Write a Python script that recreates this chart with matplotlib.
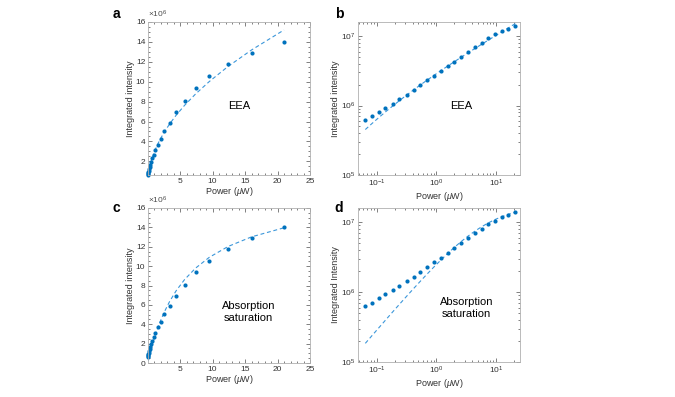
import numpy as np
import matplotlib
matplotlib.use("Agg")
import matplotlib.pyplot as plt
from matplotlib.ticker import FuncFormatter, MultipleLocator, LogLocator, NullFormatter

plt.rcParams["font.family"] = ["Liberation Sans", "DejaVu Sans"]
plt.rcParams["mathtext.fontset"] = "custom"
plt.rcParams["mathtext.rm"] = "Liberation Sans"
plt.rcParams["mathtext.it"] = "Liberation Sans:italic"

# excitation power (uW)
power = [0.065, 0.085, 0.11, 0.14, 0.185, 0.24, 0.32, 0.42, 0.54, 0.70, 0.92, 1.2,
         1.55, 2.0, 2.6, 3.4, 4.4, 5.7, 7.4, 9.5, 12.4, 16.0, 21.0]
# integrated PL intensity (x1e6)
intensity = [0.63, 0.71, 0.82, 0.93, 1.07, 1.23, 1.43, 1.67, 1.96, 2.30, 2.68, 3.12,
             3.68, 4.28, 5.08, 5.87, 6.92, 8.05, 9.42, 10.58, 11.75, 12.86, 14.0]
# EEA fit evaluated at the measured powers (x1e6)
eea_fit = [0.452, 0.557, 0.676, 0.807, 0.982, 1.174, 1.421, 1.693, 1.983, 2.325, 2.739, 3.202,
           3.712, 4.290, 4.970, 5.764, 6.636, 7.632, 8.778, 10.02, 11.54, 13.19, 15.20]
# absorption saturation fit evaluated at the measured powers (x1e6)
sat_fit = [0.185, 0.2415, 0.311, 0.394, 0.518, 0.666, 0.877, 1.134, 1.432, 1.814, 2.312, 2.903,
           3.583, 4.372, 5.300, 6.360, 7.461, 8.618, 9.800, 10.91, 12.03, 13.02, 13.96]

p = np.array(power)
y = np.array(intensity) * 1e6
f_eea = np.array(eea_fit) * 1e6
f_sat = np.array(sat_fit) * 1e6

DOT = "#0072BD"
LINE = "#3C97DA"
GRAY = "#4D4D4D"

fig = plt.figure(figsize=(6.75, 3.97), dpi=100)
W, H = 675.0, 397.0


def box(l, t, r, b):
    return [l / W, 1 - b / H, (r - l) / W, (b - t) / H]


def style(ax):
    for s in ax.spines.values():
        s.set_color("#B0B0B0")
        s.set_linewidth(0.6)
    ax.tick_params(which="both", direction="in", top=True, right=True,
                   colors=GRAY, labelsize=6, width=0.5, pad=2)
    ax.tick_params(which="major", length=3)
    ax.tick_params(which="minor", length=1.6)
    ax.tick_params(labelcolor="#333333")


def lin_panel(ax, fit, ylo, yticks):
    ax.plot(p, fit, "--", color=LINE, lw=0.8, dashes=(3.5, 2.5))
    ax.plot(p, y, "o", color=DOT, ms=3.0, mew=0, clip_on=False)
    ax.set_xlim(0.065, 25)
    ax.set_ylim(ylo, 16e6)
    ax.set_xticks([5, 10, 15, 20, 25])
    ax.xaxis.set_minor_locator(MultipleLocator(1))
    ax.set_yticks(yticks)
    ax.yaxis.set_minor_locator(MultipleLocator(0.5e6))
    ax.yaxis.set_major_formatter(FuncFormatter(lambda v, pos: "%d" % round(v / 1e6)))
    ax.text(0.0, 1.01, r"$\times10^6$", transform=ax.transAxes, fontsize=6,
            color=GRAY, ha="left", va="bottom")
    style(ax)


def log_panel(ax, fit):
    ax.plot(p, fit, "--", color=LINE, lw=0.8, dashes=(3.5, 2.5))
    ax.plot(p, y, "o", color=DOT, ms=3.0, mew=0)
    ax.set_xscale("log")
    ax.set_yscale("log")
    ax.set_xlim(0.049, 25)
    ax.set_ylim(1e5, 1.6e7)
    ax.xaxis.set_major_locator(LogLocator(base=10, numticks=10))
    ax.xaxis.set_minor_locator(LogLocator(base=10, subs=np.arange(2, 10), numticks=20))
    ax.xaxis.set_minor_formatter(NullFormatter())
    ax.yaxis.set_major_locator(LogLocator(base=10, numticks=10))
    ax.yaxis.set_minor_locator(LogLocator(base=10, subs=np.arange(2, 10), numticks=20))
    ax.yaxis.set_minor_formatter(NullFormatter())
    style(ax)


ax_a = fig.add_axes(box(148, 22, 310, 175))
lin_panel(ax_a, f_eea, 0.63e6, [2e6, 4e6, 6e6, 8e6, 10e6, 12e6, 14e6, 16e6])
ax_a.text(0.56, 0.45, "EEA", transform=ax_a.transAxes, fontsize=8, ha="center", va="center")

ax_b = fig.add_axes(box(358, 22, 520, 175))
log_panel(ax_b, f_eea)
ax_b.text(0.64, 0.45, "EEA", transform=ax_b.transAxes, fontsize=8, ha="center", va="center")

ax_c = fig.add_axes(box(148, 208, 310, 363))
lin_panel(ax_c, f_sat, 0, [0, 2e6, 4e6, 6e6, 8e6, 10e6, 12e6, 14e6, 16e6])
ax_c.text(0.62, 0.33, "Absorption\nsaturation", transform=ax_c.transAxes, fontsize=8,
          ha="center", va="center", linespacing=1.3)

ax_d = fig.add_axes(box(358, 208, 520, 362))
log_panel(ax_d, f_sat)
ax_d.text(0.67, 0.35, "Absorption\nsaturation", transform=ax_d.transAxes, fontsize=8,
          ha="center", va="center", linespacing=1.3)

for ax, lab in [(ax_a, "Integrated intensity"), (ax_b, "Integrated intensity"),
                (ax_c, "Integrated intensity"), (ax_d, "Integrated Intensity")]:
    ax.set_xlabel(r"Power ($\mu$W)", fontsize=6.5, color="#333333", labelpad=0.5)
    ax.set_ylabel(lab, fontsize=6.5, color="#333333", labelpad=0.5)

for x, yy, t in [(116, 14, "a"), (339, 14, "b"), (116, 208, "c"), (339, 208, "d")]:
    fig.text(x / W, 1 - yy / H, t, fontsize=10, fontweight="bold", ha="center", va="center")

fig.savefig("out.png", dpi=100)
